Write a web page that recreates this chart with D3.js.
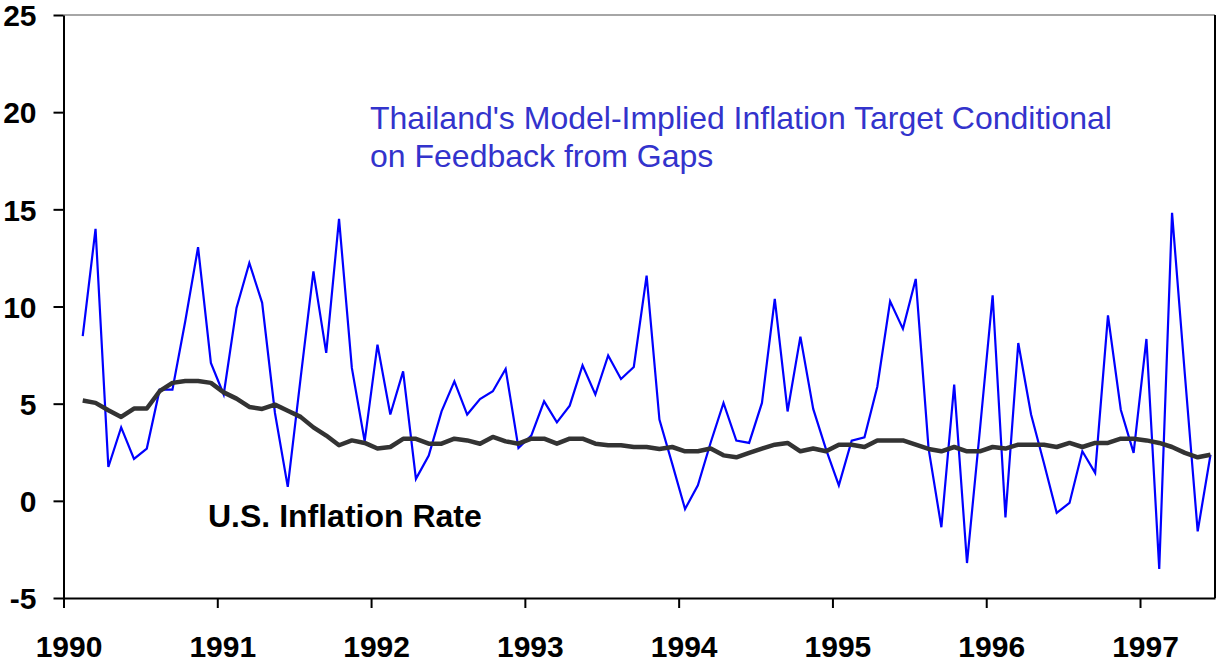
<!DOCTYPE html>
<html>
<head>
<meta charset="utf-8">
<script src="https://cdn.jsdelivr.net/npm/d3@7"></script>
<style>
  body { margin: 0; background: #fff; }
  svg { display: block; font-family: "Liberation Sans", Arial, sans-serif; }
</style>
</head>
<body>
<div id="chart"></div>
<script>
// monthly observations, Feb 1990 .. Jun 1997
const startYear = 1990
const startMonth = 2

const thailandTarget = [
  8.47, 14.0, 1.74, 3.78, 2.16, 2.69, 5.72, 5.72, 9.24, 13.05, 7.1,
  5.47, 9.93, 12.24, 10.19, 4.52, 0.72, 6.3, 11.81, 7.61, 14.51, 6.84,
  3.06, 8.04, 4.44, 6.66, 1.13, 2.33, 4.6, 6.15, 4.44, 5.24, 5.64, 6.79,
  2.72, 3.36, 5.12, 4.04, 4.9, 6.97, 5.47, 7.48, 6.27, 6.89,
  11.59, 4.18, 1.9, -0.42, 0.8, 3.0, 5.04, 3.1, 2.98, 5.04, 10.39, 4.6, 8.45, 4.73,
  2.65, 0.8, 3.1, 3.27, 5.87, 10.27,
  8.85, 11.42, 2.7, -1.36, 5.98, -3.2, 3.6, 10.58, -0.85, 8.12, 4.44, 1.95,
  -0.62, -0.11, 2.55, 1.44, 9.54, 4.69, 2.47, 8.33, -3.5, 14.82, 6.5, -1.57, 2.37
]

const usInflation = [
  5.16, 5.04, 4.66, 4.32, 4.75, 4.75, 5.64, 6.07, 6.17, 6.17, 6.07,
  5.58, 5.26, 4.83, 4.73, 4.95, 4.64, 4.32, 3.78, 3.36, 2.86, 3.11,
  2.98, 2.69, 2.77, 3.19, 3.19, 2.94, 2.94, 3.2, 3.11, 2.94, 3.29, 3.06,
  2.94, 3.2, 3.2, 2.94, 3.2, 3.2, 2.94, 2.86, 2.86, 2.77,
  2.77, 2.67, 2.77, 2.55, 2.55, 2.69, 2.34, 2.24, 2.47, 2.69, 2.89, 2.98, 2.55, 2.69,
  2.55, 2.89, 2.89, 2.77, 3.11, 3.11,
  3.11, 2.89, 2.67, 2.55, 2.77, 2.55, 2.55, 2.77, 2.69, 2.89, 2.89, 2.89,
  2.77, 2.98, 2.77, 2.98, 2.98, 3.2, 3.2, 3.11, 2.98, 2.77, 2.47, 2.24, 2.37
]

const yearTicks = [1990, 1991, 1992, 1993, 1994, 1995, 1996, 1997]
const valueTicks = [-5, 0, 5, 10, 15, 20, 25]

const titleLines = ["Thailand's Model-Implied Inflation Target Conditional", "on Feedback from Gaps"]
const usLabel = "U.S. Inflation Rate"

const width = 1217
const height = 664
const plotLeft = 63.5, plotRight = 1215, plotTop = 15, plotBottom = 598

const svg = d3.select("#chart")
  .append("svg")
  .attr("width", width)
  .attr("height", height)

// date of observation i, placed mid-month
const dateOf = i => startYear + (startMonth - 1 + i + 0.5) / 12

const x = d3.scaleLinear().domain([1990, 1997.4876]).range([plotLeft, plotRight])
const y = d3.scaleLinear().domain([-5, 25]).range([plotBottom, plotTop])

// frame
svg.append("line")
  .attr("x1", plotLeft).attr("x2", plotRight).attr("y1", plotTop).attr("y2", plotTop)
  .attr("stroke", "#888").attr("stroke-width", 1.5)
svg.append("line")
  .attr("x1", plotRight).attr("x2", plotRight).attr("y1", plotTop).attr("y2", plotBottom)
  .attr("stroke", "#000").attr("stroke-width", 2)

const yAxis = svg.append("g")
  .attr("transform", `translate(${plotLeft},0)`)
  .call(d3.axisLeft(y).tickValues(valueTicks).tickFormat(d => String(d))
    .tickSize(10).tickSizeOuter(0).tickPadding(17))
yAxis.select(".domain").attr("stroke-width", 2)
yAxis.selectAll(".tick line").attr("stroke-width", 2)
yAxis.selectAll("text")
  .attr("font-size", 30).attr("font-weight", "bold").attr("fill", "#000")
  .attr("font-family", "'Liberation Sans', Arial, sans-serif")
  .attr("dy", "0.36em")

const xAxis = svg.append("g")
  .attr("transform", `translate(0,${plotBottom})`)
  .call(d3.axisBottom(x).tickValues(yearTicks).tickFormat(d => String(d))
    .tickSize(10).tickSizeOuter(0))
xAxis.select(".domain").attr("stroke-width", 2)
xAxis.selectAll(".tick line").attr("stroke-width", 2)
xAxis.selectAll("text")
  .attr("font-size", 30).attr("font-weight", "bold").attr("fill", "#000")
  .attr("font-family", "'Liberation Sans', Arial, sans-serif")
  .attr("x", 5).attr("y", 59).attr("dy", 0)

const line = d3.line()
  .x((d, i) => x(dateOf(i)))
  .y(d => y(d))

svg.append("path")
  .datum(thailandTarget)
  .attr("d", line)
  .attr("fill", "none")
  .attr("stroke", "#0000ff")
  .attr("stroke-width", 2.2)
  .attr("stroke-linejoin", "miter")

svg.append("path")
  .datum(usInflation)
  .attr("d", line)
  .attr("fill", "none")
  .attr("stroke", "#333")
  .attr("stroke-width", 4.5)
  .attr("stroke-linejoin", "round")

svg.append("text")
  .attr("x", 370)
  .attr("y", 129)
  .attr("fill", "#3333cc")
  .attr("font-size", 32)
  .selectAll("tspan")
  .data(titleLines)
  .enter().append("tspan")
  .attr("x", 370)
  .attr("dy", (d, i) => i === 0 ? 0 : 38)
  .text(d => d)

svg.append("text")
  .attr("x", 208)
  .attr("y", 527)
  .attr("font-size", 32)
  .attr("font-weight", "bold")
  .attr("fill", "#000")
  .text(usLabel)
</script>
</body>
</html>
